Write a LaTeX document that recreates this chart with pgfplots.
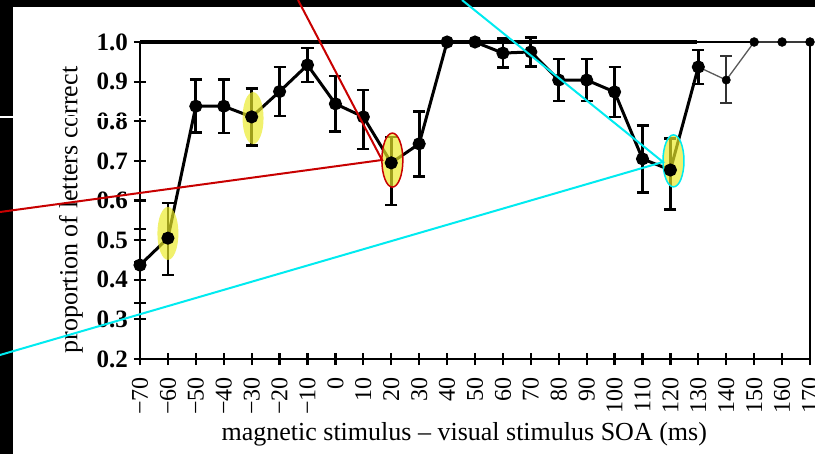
\documentclass[border=0pt]{standalone}
\usepackage{pgfplots}
\pgfplotsset{compat=1.18}
\usepackage{fontspec}
\setmainfont{Liberation Serif}
\definecolor{hlyellow}{RGB}{235,235,40}
\definecolor{annred}{RGB}{200,0,0}
\definecolor{anncyan}{RGB}{0,235,240}
\begin{document}
\begin{tikzpicture}[x=1pt,y=1pt]
\useasboundingbox (0,0) rectangle (815,-454);
\fill[black] (0,0) rectangle (815,-454);
\fill[white] (13,-7) rectangle (815,-454);
\begin{axis}[
  at={(140pt,-359pt)}, anchor=south west,
  scale only axis, width=670pt, height=317pt,
  xmin=-70, xmax=170, ymin=0.2, ymax=1.0,
  clip=false,
  axis line style={line width=2.5pt},
  xtick pos=left, ytick pos=left,
  xtick={-70,-60,-50,-40,-30,-20,-10,0,10,20,30,40,50,60,70,80,90,100,110,120,130,140,150,160,170},
  xticklabels={−70,−60,−50,−40,−30,−20,−10,0,10,20,30,40,50,60,70,80,90,100,110,120,130,140,150,160,170},
  ytick={0.2,0.3,0.4,0.5,0.6,0.7,0.8,0.9,1.0},
  yticklabels={0.2,0.3,0.4,0.5,0.6,0.7,0.8,0.9,1.0},
  extra y ticks={0.528,0.445,0.341}, extra y tick labels={},
  extra y tick style={tick align=center, ytick pos=left},
  tick align=center, major tick length=12pt,
  tick style={line width=2.2pt, black},
  xticklabel style={rotate=90, anchor=east, inner sep=0pt, font=\fontsize{24}{24}\selectfont},
  yticklabel style={anchor=east, inner sep=0pt, font=\bfseries\fontsize{25}{25}\selectfont},
  xticklabel shift=12pt,
  yticklabel shift=6pt,
  xlabel={magnetic stimulus – visual stimulus SOA (ms)},
  ylabel={proportion of letters correct},
  xlabel style={at={(axis description cs:0.484,-0.237)}, anchor=center, font=\fontsize{26}{26}\selectfont},
  ylabel style={at={(axis description cs:-0.103,0.47)}, anchor=center, rotate=0, font=\fontsize{26}{26}\selectfont},
]
% main thick line
\addplot[line width=3pt, black, mark=*, mark size=5pt] coordinates {
(-70,0.437) (-60,0.505) (-50,0.838) (-40,0.838) (-30,0.811) (-20,0.875) (-10,0.942)
(0,0.844) (10,0.811) (20,0.695) (30,0.743) (40,1.0) (50,1.0) (60,0.972) (70,0.975)
(80,0.904) (90,0.904) (100,0.874) (110,0.705) (120,0.677) (130,0.937)
};
% error bars
\addplot[only marks, black, mark=*, mark size=5pt,
  error bars/.cd, y dir=both, y explicit,
  error bar style={line width=2.7pt, black},
  error mark options={rotate=90, mark size=6pt, line width=2.7pt, black}] coordinates {
(-60,0.505) += (0,0.089) -= (0,0.093)
(-50,0.838) +- (0,0.067)
(-40,0.838) +- (0,0.068)
(-30,0.811) +- (0,0.072)
(-20,0.875) +- (0,0.062)
(-10,0.942) +- (0,0.043)
(0,0.844) +- (0,0.07)
(10,0.811) += (0,0.068) -= (0,0.081)
(20,0.695) += (0,0.065) -= (0,0.106)
(30,0.743) +- (0,0.082)
(60,0.972) +- (0,0.037)
(70,0.975) +- (0,0.037)
(80,0.904) +- (0,0.053)
(90,0.904) +- (0,0.053)
(100,0.874) +- (0,0.063)
(110,0.705) +- (0,0.085)
(120,0.677) += (0,0.08) -= (0,0.10)
(130,0.937) +- (0,0.043)
};
% thin grey tail
\addplot[line width=1.3pt, black!65, mark=none] coordinates {
(130,0.937) (140,0.904) (150,1.0) (160,1.0) (170,1.0)
};
\addplot[only marks, black, mark=*, mark size=4.2pt,
  error bars/.cd, y dir=both, y explicit,
  error bar style={line width=1.8pt, black!80},
  error mark options={rotate=90, mark size=6pt, line width=1.8pt, black!80}] coordinates {
(140,0.904) += (0,0.061) -= (0,0.058)
};
\addplot[only marks, black, mark=*, mark size=4.5pt] coordinates {(150,1.0) (160,1.0) (170,1.0)};
% thick part of the top frame
\draw[line width=3.5pt] (axis cs:-70,1) -- (axis cs:129.5,1);
% highlight ellipses
\fill[hlyellow, fill opacity=0.68] (axis cs:-60,0.517) ellipse [x radius=10.5pt, y radius=26.5pt];
\fill[hlyellow, fill opacity=0.68] (axis cs:-29.5,0.808) ellipse [x radius=10.5pt, y radius=26pt];
\filldraw[fill=hlyellow, fill opacity=0.68, draw=annred, draw opacity=1, line width=1.5pt] (axis cs:20.4,0.702) ellipse [x radius=10.5pt, y radius=27pt];
\filldraw[fill=hlyellow, fill opacity=0.68, draw=anncyan, draw opacity=1, line width=1.5pt] (axis cs:121.1,0.700) ellipse [x radius=10.5pt, y radius=26pt];
\end{axis}
\draw[white, line width=1.5pt] (0,-117) -- (141,-117);
\draw[annred, line width=2pt] (298,0) -- (382,-160) -- (0,-212);
\draw[anncyan, line width=2pt] (462,0) -- (663,-162) -- (0,-355);
\end{tikzpicture}
\end{document}
